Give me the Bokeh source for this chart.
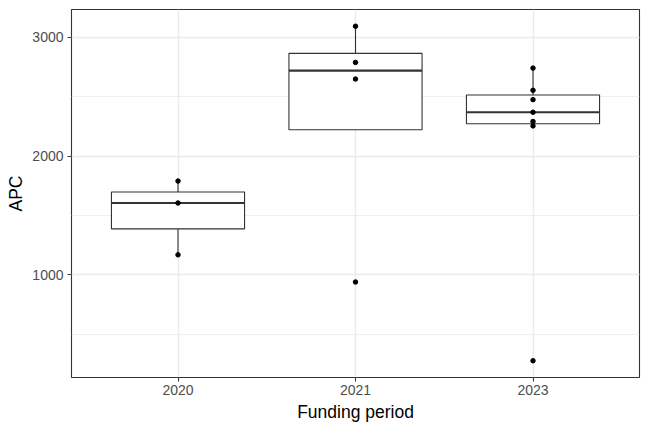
import numpy as np
from bokeh.plotting import figure
from bokeh.models import FactorRange, Range1d, SingleIntervalTicker, ColumnDataSource
from bokeh.transform import dodge
from bokeh.embed import file_html
from bokeh.resources import INLINE

# ---- data ----
periods = ["2020", "2021", "2023"]
apc_2020 = [1168, 1605, 1790]
apc_2021 = [939, 2650, 2790, 3095]
apc_2023 = [275, 2255, 2292, 2370, 2476, 2555, 2742]
values = {"2020": apc_2020, "2021": apc_2021, "2023": apc_2023}

# ---- boxplot statistics (ggplot2 style) ----
q1s, meds, q3s, lows, highs = [], [], [], [], []
for per in periods:
    v = np.array(values[per], dtype=float)
    q1, med, q3 = np.quantile(v, [0.25, 0.5, 0.75])
    iqr = q3 - q1
    inside = v[(v >= q1 - 1.5 * iqr) & (v <= q3 + 1.5 * iqr)]
    q1s.append(q1); meds.append(med); q3s.append(q3)
    lows.append(inside.min()); highs.append(inside.max())

box_src = ColumnDataSource(dict(x=periods, q1=q1s, med=meds, q3=q3s, lo=lows, hi=highs))

px, py = [], []
for per in periods:
    for val in values[per]:
        px.append(per); py.append(val)
pt_src = ColumnDataSource(dict(x=px, y=py))

allv = np.array(py, dtype=float)
span = allv.max() - allv.min()
ymin, ymax = allv.min() - 0.05 * span, allv.max() + 0.05 * span

xr = FactorRange(factors=periods, range_padding=0.1, range_padding_units="absolute")

p = figure(width=648, height=432, x_range=xr, y_range=Range1d(ymin, ymax),
           output_backend="svg", toolbar_location=None,
           min_border_left=71, min_border_right=9, min_border_top=9, min_border_bottom=55)

p.background_fill_color = "white"
p.border_fill_color = "white"
p.outline_line_color = "#333333"
p.outline_line_width = 1.1

# grids
p.yaxis.ticker = SingleIntervalTicker(interval=1000, num_minor_ticks=2)
p.ygrid.grid_line_color = "#EBEBEB"
p.ygrid.grid_line_width = 1.4
p.ygrid.minor_grid_line_color = "#EBEBEB"
p.ygrid.minor_grid_line_width = 0.8
p.xgrid.grid_line_color = "#EBEBEB"
p.xgrid.grid_line_width = 1.4

# axes
for ax in (p.xaxis, p.yaxis):
    ax.axis_line_color = None
    ax.major_tick_line_color = "#333333"
    ax.major_tick_line_width = 1.1
    ax.major_tick_out = 4
    ax.major_tick_in = 0
    ax.minor_tick_line_color = None
    ax.major_label_text_color = "#4D4D4D"
    ax.major_label_text_font = "Liberation Sans"
    ax.major_label_text_font_size = "14px"
    ax.axis_label_text_font = "Liberation Sans"
    ax.axis_label_text_font_size = "17.5px"
    ax.axis_label_text_font_style = "normal"
    ax.axis_label_text_color = "black"

p.xaxis.axis_label = "Funding period"
p.yaxis.axis_label = "APC"
p.yaxis.major_label_standoff = 4
p.xaxis.major_label_standoff = 3
p.yaxis.axis_label_standoff = 3
p.xaxis.axis_label_standoff = 4

# whiskers
p.segment(x0="x", y0="q3", x1="x", y1="hi", source=box_src, line_color="#333333", line_width=1.1)
p.segment(x0="x", y0="q1", x1="x", y1="lo", source=box_src, line_color="#333333", line_width=1.1)
# boxes
p.vbar(x="x", width=0.75, bottom="q1", top="q3", source=box_src,
       fill_color="white", line_color="#333333", line_width=1.1)
# medians
p.segment(x0=dodge("x", -0.375, range=xr), y0="med", x1=dodge("x", 0.375, range=xr), y1="med",
          source=box_src, line_color="#333333", line_width=2.2)
# points
p.scatter(x="x", y="y", source=pt_src, size=4.5, color="black")

open("out.html", "w").write(file_html(p, INLINE))
